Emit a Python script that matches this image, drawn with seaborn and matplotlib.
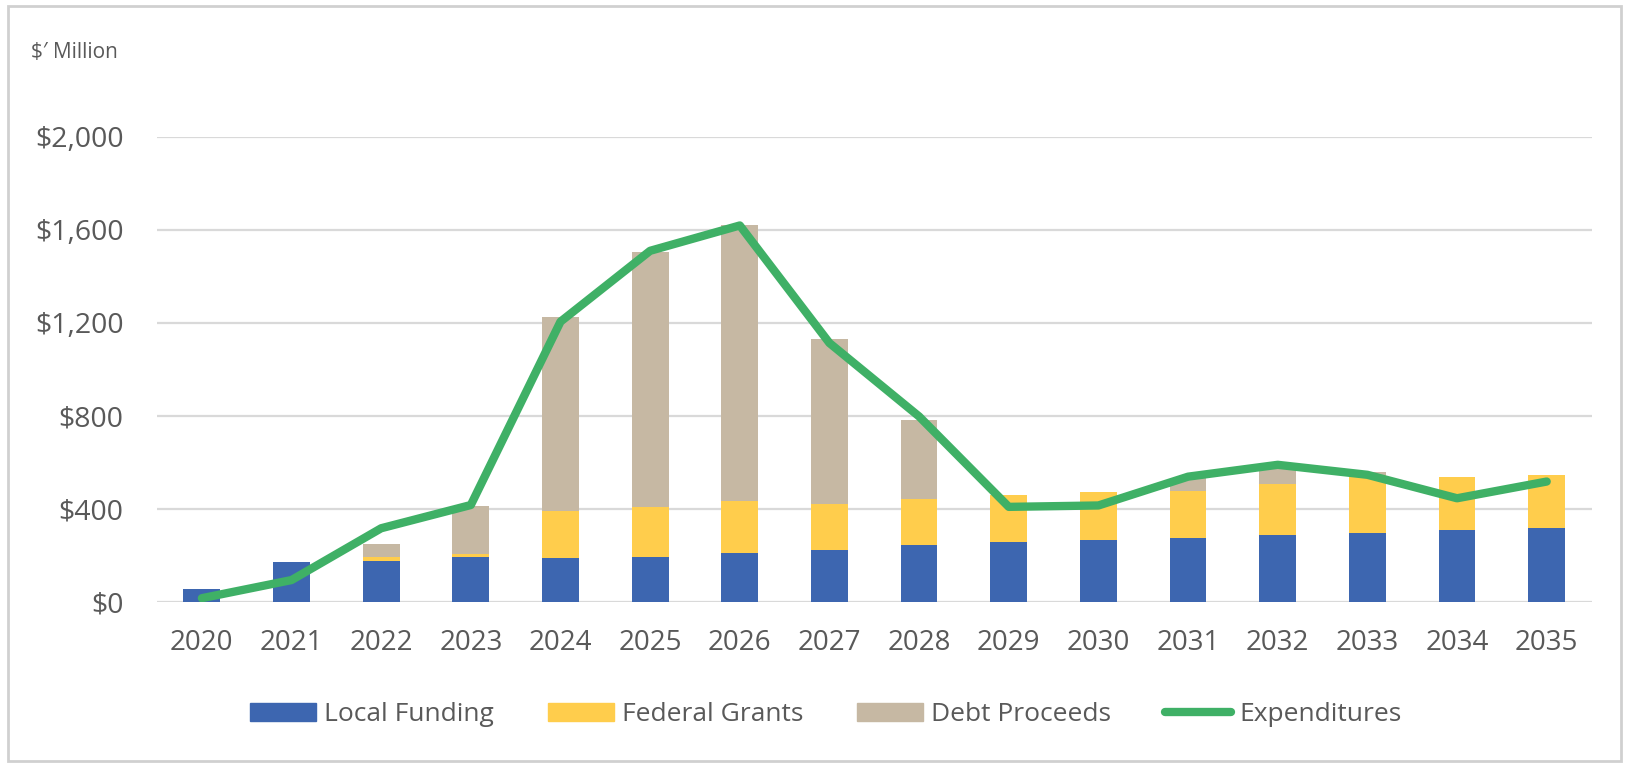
#!/usr/bin/env python
# coding: utf-8

# =====================================================================
# [1] Imports and global settings
# =====================================================================
import numpy as np
import pandas as pd
import matplotlib.pyplot as plt
import seaborn as sns
from matplotlib.patches import Rectangle
from matplotlib.lines import Line2D
from matplotlib.ticker import FuncFormatter

sns.set_style('white')
plt.rcParams['font.family'] = ['Open Sans', 'DejaVu Sans']

# =====================================================================
# [2] Data ($ million)
# =====================================================================
years = ['2020', '2021', '2022', '2023', '2024', '2025', '2026', '2027',
         '2028', '2029', '2030', '2031', '2032', '2033', '2034', '2035']
local_funding = [53, 170, 177, 194, 187, 191, 208, 223, 244, 258, 266, 273, 287, 295, 309, 316]
federal_grants = [0, 0, 17, 13, 205, 215, 226, 196, 198, 199, 204, 205, 220, 251, 227, 227]
debt_proceeds = [0, 0, 56, 204, 831, 1097, 1185, 711, 341, 0, 0, 53, 68, 10, 0, 0]
expenditures = [15, 93, 316, 416, 1205, 1510, 1619, 1113, 797, 408, 414, 538, 589, 546, 445, 517]

df = pd.DataFrame({
    'year': years,
    'local': local_funding,
    'federal': federal_grants,
    'debt': debt_proceeds,
    'exp': expenditures,
})
# stacked bars drawn back to front as cumulative totals
df['local_fed'] = df['local'] + df['federal']
df['total'] = df['local_fed'] + df['debt']

c_local = '#3D66B0'
c_fed = '#FFCD4C'
c_debt = '#C6B8A3'
c_exp = '#3FB066'
c_text = '#595959'
c_grid = '#D9D9D9'

# =====================================================================
# [3] Plot
# =====================================================================
fig = plt.figure(figsize=(16.29, 7.65), dpi=100)
ax = fig.add_axes([0.0964, 0.2135, 0.8806, 0.6075])

bar_w = 0.41
for col, c in [('total', c_debt), ('local_fed', c_fed), ('local', c_local)]:
    sns.barplot(data=df, x='year', y=col, color=c, width=bar_w,
                saturation=1, linewidth=0, ax=ax, zorder=2)

sns.lineplot(x=np.arange(len(years)), y=df['exp'], color=c_exp, linewidth=6,
             solid_capstyle='round', solid_joinstyle='round', ax=ax, zorder=3)

ax.set_xlim(-0.5, len(years) - 0.5)
ax.set_ylim(0, 2000)
ax.set_yticks(np.arange(0, 2001, 400))
ax.yaxis.set_major_formatter(FuncFormatter(lambda v, p: f'${v:,.0f}'))
ax.grid(True, axis='y', color=c_grid, linewidth=1.6, zorder=0)
ax.set_axisbelow(True)
ax.set_xlabel('')
ax.set_ylabel('')
for s in ax.spines.values():
    s.set_visible(False)
ax.tick_params(axis='both', length=0, labelcolor=c_text)
ax.tick_params(axis='x', pad=20, labelsize=20)
ax.tick_params(axis='y', pad=24, labelsize=20.5)

# unit label top-left
fig.text(0.019, 0.932, '$\u2032 Million', fontsize=15, color=c_text,
         ha='left', va='center')

# legend at the bottom
handles = [
    Rectangle((0, 0), 1, 1, color=c_local),
    Rectangle((0, 0), 1, 1, color=c_fed),
    Rectangle((0, 0), 1, 1, color=c_debt),
    Line2D([0], [0], color=c_exp, linewidth=6, solid_capstyle='round'),
]
labels = ['Local Funding', 'Federal Grants', 'Debt Proceeds', 'Expenditures']
leg = fig.legend(handles, labels, loc='center', bbox_to_anchor=(0.507, 0.066),
                 ncol=4, frameon=False, fontsize=19, handlelength=2.5,
                 handleheight=0.65, handletextpad=0.3, columnspacing=2.05)
for t in leg.get_texts():
    t.set_color(c_text)

# light outer border
fig.patches.append(Rectangle((0.005, 0.005), 0.99, 0.987, transform=fig.transFigure,
                             fill=False, edgecolor='#D0D0D0', linewidth=2))

plt.savefig('out.png', dpi=100)
